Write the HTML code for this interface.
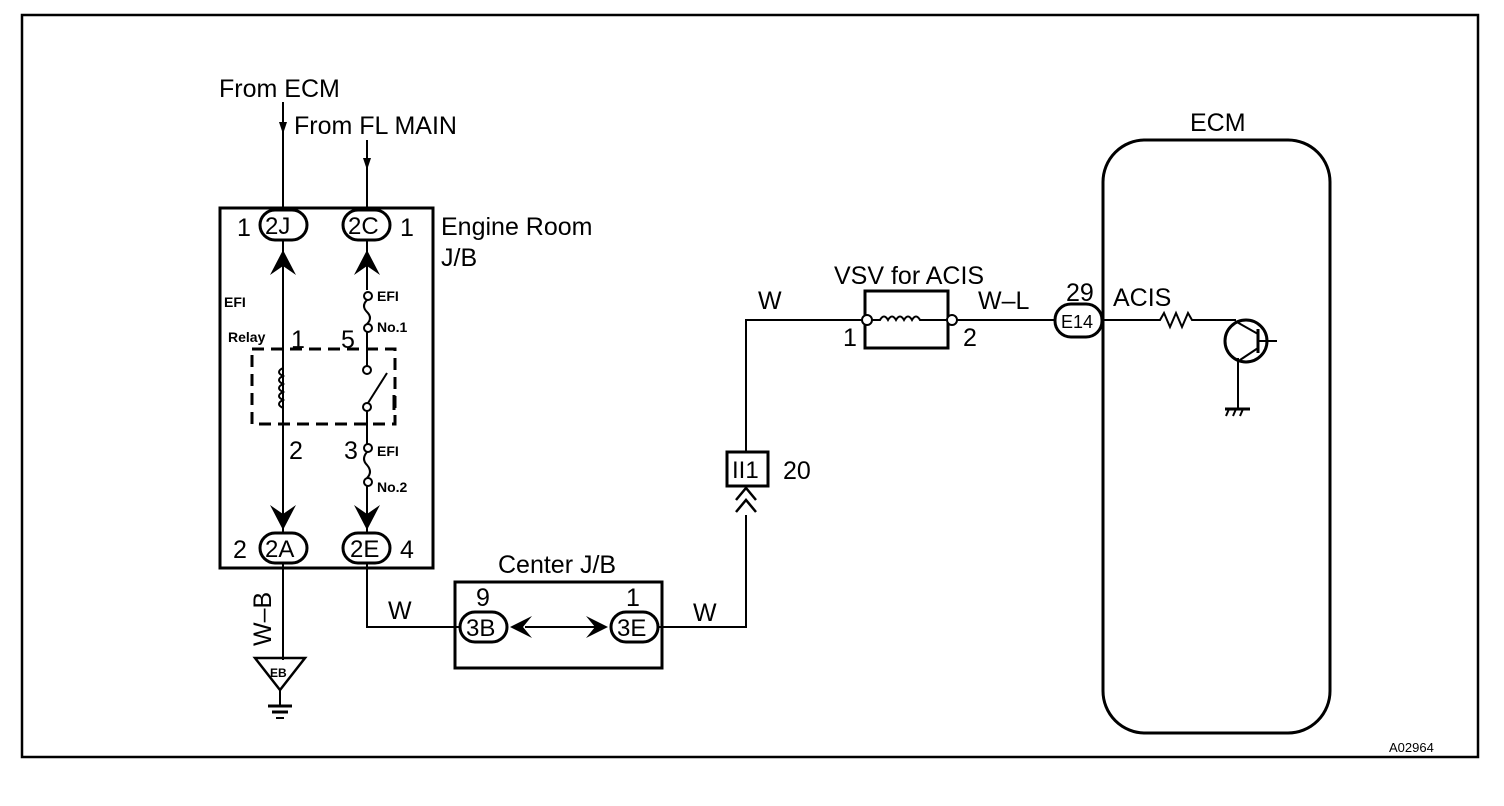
<!DOCTYPE html>
<html><head><style>
html,body{margin:0;padding:0;background:#fff;}
svg{display:block;}
text{font-family:"Liberation Sans",Arial,sans-serif;fill:#000;}
</style></head><body>
<svg width="1504" height="806" viewBox="0 0 1504 806" xmlns="http://www.w3.org/2000/svg">
<rect x="22" y="15" width="1456" height="742" fill="none" stroke="#000" stroke-width="2.5"/>
<g stroke="#000" fill="none" stroke-width="2">
<rect x="220" y="208" width="213" height="360" stroke-width="3"/>
<line x1="283" y1="102" x2="283" y2="210"/>
<line x1="367" y1="140" x2="367" y2="210"/>
<line x1="283" y1="240" x2="283" y2="533"/>
<line x1="367" y1="240" x2="367" y2="290"/>
<path d="M367 300 q-6 6 0 12 q6 6 0 12"/>
<line x1="367" y1="332" x2="367" y2="366"/>
<line x1="367" y1="410" x2="367" y2="444"/>
<path d="M367 452 q-6 7 0 13 q6 7 0 13"/>
<line x1="367" y1="486" x2="367" y2="533"/>
<circle cx="368" cy="296" r="4" fill="#fff"/>
<circle cx="368" cy="328" r="4" fill="#fff"/>
<circle cx="368" cy="448" r="4" fill="#fff"/>
<circle cx="368" cy="482" r="4" fill="#fff"/>
<circle cx="367" cy="370" r="4" fill="#fff"/>
<circle cx="367" cy="407" r="4" fill="#fff"/>
<line x1="368" y1="403" x2="387" y2="373"/>
<line x1="394" y1="395" x2="394" y2="410" stroke-width="3"/>
<rect x="252" y="349" width="143" height="75" stroke-width="3" stroke-dasharray="12,7"/>
<path d="M283 368 q-8 4 0 8 q-8 4 0 8 q-8 4 0 8 q-8 4 0 8 q-8 4 0 8" fill="none"/>
<rect x="260" y="210" width="47" height="30" rx="15" stroke-width="3"/>
<rect x="343" y="210" width="47" height="30" rx="15" stroke-width="3"/>
<rect x="260" y="533" width="47" height="30" rx="15" stroke-width="3"/>
<rect x="343" y="533" width="47" height="30" rx="15" stroke-width="3"/>
<line x1="283" y1="563" x2="283" y2="660"/>
<polyline points="367,563 367,627 460,627"/>
<path d="M255 658 L305 658 L280 690 Z" stroke-width="2.5"/>
<line x1="280" y1="690" x2="280" y2="706"/>
<line x1="268" y1="706" x2="292" y2="706" stroke-width="3"/>
<line x1="272" y1="712" x2="288" y2="712" stroke-width="3"/>
<line x1="276" y1="718" x2="284" y2="718" stroke-width="2"/>
<rect x="455" y="582" width="207" height="86" stroke-width="3"/>
<rect x="460" y="612" width="47" height="30" rx="15" stroke-width="3"/>
<rect x="611" y="612" width="47" height="30" rx="15" stroke-width="3"/>
<line x1="525" y1="627" x2="600" y2="627"/>
<polyline points="658,627 746,627 746,515"/>
<polyline points="736,512 746,500 756,512" stroke-width="2.5"/>
<polyline points="736,500 746,488 756,500" stroke-width="2.5"/>
<rect x="727" y="452" width="41" height="34" stroke-width="3"/>
<polyline points="746,452 746,320 863,320"/>
<rect x="865" y="291" width="83" height="57" stroke-width="3"/>
<path d="M871 320 L880 320 q4 -7 8 0 q4 -7 8 0 q4 -7 8 0 q4 -7 8 0 q4 -7 8 0 L946 320"/>
<circle cx="867" cy="320" r="5" fill="#fff"/>
<circle cx="952" cy="320" r="5" fill="#fff"/>
<line x1="957" y1="320" x2="1055" y2="320"/>
<rect x="1055" y="304" width="47" height="33" rx="16" stroke-width="3"/>
<rect x="1103" y="140" width="227" height="593" rx="42" stroke-width="3"/>
<polyline points="1103,320 1160,320 1164,313 1170,327 1176,313 1182,327 1188,313 1192,320 1236,320"/>
<circle cx="1246" cy="341" r="21" stroke-width="3"/>
<line x1="1258" y1="329" x2="1258" y2="353" stroke-width="3"/>
<line x1="1258" y1="341" x2="1277" y2="341"/>
<line x1="1235" y1="321" x2="1258" y2="334"/>
<line x1="1258" y1="348" x2="1240" y2="360"/>
<line x1="1238" y1="358" x2="1238" y2="408"/>
<line x1="1225" y1="409" x2="1250" y2="409" stroke-width="3"/>
<line x1="1229" y1="409" x2="1226" y2="416"/><line x1="1236" y1="409" x2="1233" y2="416"/><line x1="1243" y1="409" x2="1240" y2="416"/>
</g>
<g fill="#000">
<path d="M279 122 L287 122 L283 134 Z"/>
<path d="M363 158 L371 158 L367 170 Z"/>
<path d="M270 275 L283 250 L296 275 L283 266 Z"/>
<path d="M354 275 L367 250 L380 275 L367 266 Z"/>
<path d="M270 505 L283 514 L296 505 L283 530 Z"/>
<path d="M354 505 L367 514 L380 505 L367 530 Z"/>
<path d="M510 627 L532 616 L523 627 L532 638 Z"/>
<path d="M608 627 L586 616 L595 627 L586 638 Z"/>
</g>
<g font-size="25">
<text x="219" y="97">From ECM</text>
<text x="294" y="134">From FL MAIN</text>
<text x="441" y="235">Engine Room</text>
<text x="441" y="266">J/B</text>
<text x="237" y="236">1</text>
<text x="400" y="236">1</text>
<text x="291" y="348">1</text>
<text x="341" y="348">5</text>
<text x="289" y="459">2</text>
<text x="344" y="459">3</text>
<text x="233" y="558">2</text>
<text x="400" y="558">4</text>
<text x="388" y="619">W</text>
<text x="498" y="573">Center J/B</text>
<text x="476" y="606">9</text>
<text x="626" y="606">1</text>
<text x="693" y="621">W</text>
<text x="783" y="479">20</text>
<text x="758" y="309">W</text>
<text x="834" y="284">VSV for ACIS</text>
<text x="843" y="346">1</text>
<text x="963" y="346">2</text>
<text x="978" y="309">W–L</text>
<text x="1066" y="301">29</text>
<text x="1113" y="306">ACIS</text>
<text x="1190" y="131">ECM</text>
</g>
<g font-size="24">
<text x="265" y="234">2J</text>
<text x="348" y="234">2C</text>
<text x="265" y="557">2A</text>
<text x="350" y="557">2E</text>
<text x="466" y="636">3B</text>
<text x="617" y="636">3E</text>
<text x="732" y="478">II1</text>
</g>
<text x="1061" y="328" font-size="18">E14</text>
<text x="224" y="307" font-size="14" font-weight="bold">EFI</text>
<text x="228" y="342" font-size="14" font-weight="bold">Relay</text>
<text x="377" y="301" font-size="14" font-weight="bold">EFI</text>
<text x="377" y="332" font-size="14" font-weight="bold">No.1</text>
<text x="377" y="456" font-size="14" font-weight="bold">EFI</text>
<text x="377" y="492" font-size="14" font-weight="bold">No.2</text>
<text x="270" y="677" font-size="12" font-weight="bold">EB</text>
<text x="1389" y="752" font-size="13">A02964</text>
<text transform="translate(271,646) rotate(-90)" font-size="25">W–B</text>
</svg>
</body></html>
